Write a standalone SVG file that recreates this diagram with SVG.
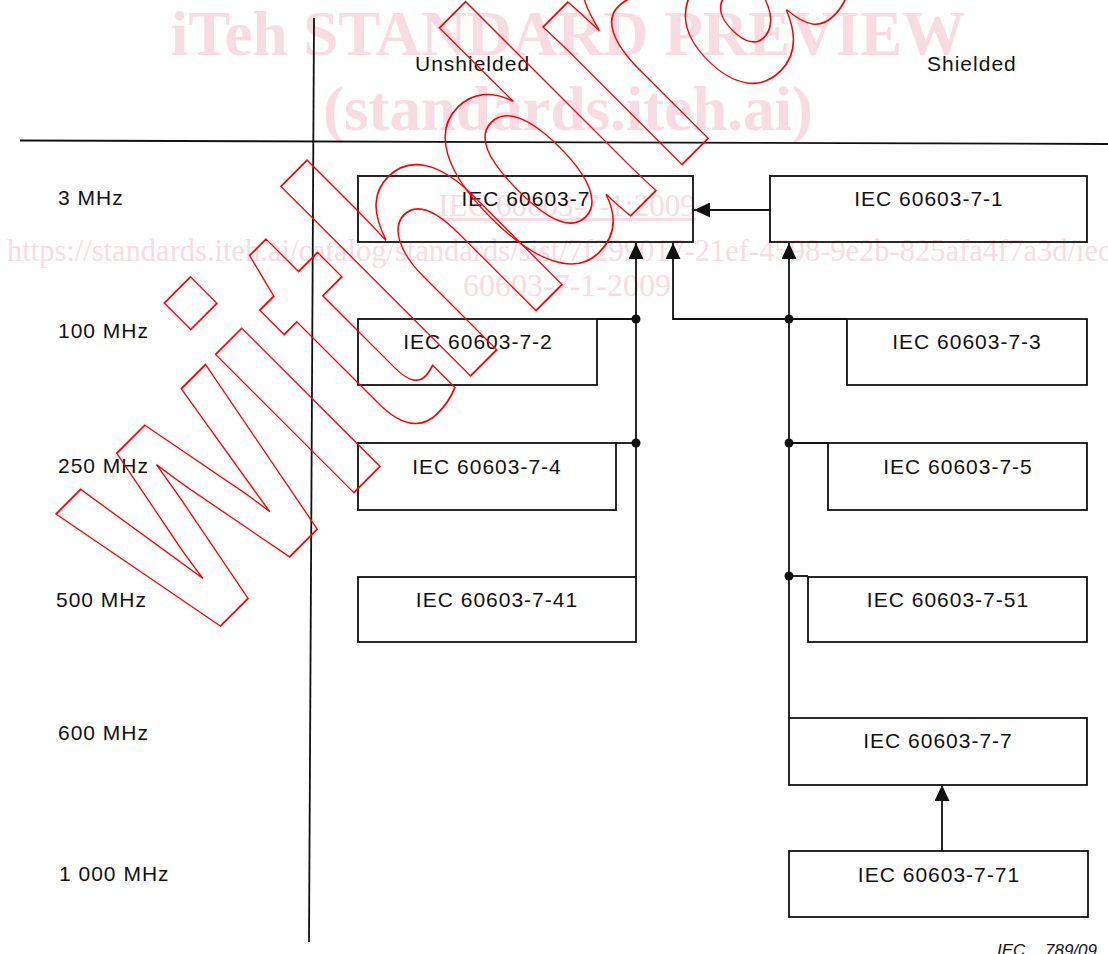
<svg xmlns="http://www.w3.org/2000/svg" width="1108" height="954" viewBox="0 0 1108 954">
<defs>
<style>
.wm{font-family:"Liberation Serif","Times New Roman",serif;fill:#f9dbe3}
.wmb{font-weight:bold;font-size:63px}
.lbl{font-family:"Liberation Sans",Arial,sans-serif;font-size:21px;letter-spacing:1px;fill:#111}
.box rect{fill:none;stroke:#111;stroke-width:1.8}
.box text{text-anchor:middle}
.conn line,.conn polyline{stroke:#111;stroke-width:1.8;fill:none}
.axis line{stroke:#111;stroke-width:1.8}
.dot{fill:#111}
.red{font-family:"Liberation Sans",Arial,sans-serif;font-weight:bold;font-size:370px;fill:none;stroke:#f00;stroke-width:1.8}
.tag{font-family:"Liberation Sans",Arial,sans-serif;font-size:17px;font-style:italic;fill:#111}
</style>
<marker id="ah" viewBox="0 0 16 15" refX="16" refY="7.5" markerWidth="16" markerHeight="15" markerUnits="userSpaceOnUse" orient="auto"><path d="M0,0L16,7.5L0,15Z" fill="#111"/></marker>
</defs>
<rect width="1108" height="954" fill="#fff"/>
<g id="watermark">
<text class="wm wmb" x="568" y="55" text-anchor="middle">iTeh STANDARD PREVIEW</text>
<text class="wm wmb" x="568" y="130" text-anchor="middle">(standards.iteh.ai)</text>
<text class="wm" x="567" y="216" font-size="31" text-anchor="middle" text-decoration="underline">IEC 60603-7-1:2009</text>
<text class="wm" x="7" y="261" font-size="30.5">https://standards.iteh.ai/catalog/standards/sist/7f299017-21ef-4598-9e2b-825afa4f7a3d/iec-</text>
<text class="wm" x="567" y="296" font-size="32" text-anchor="middle">60603-7-1-2009</text>
</g>
<g id="axes" class="axis">
<line x1="314" y1="18" x2="309" y2="942"/>
<line x1="20" y1="140.5" x2="1108" y2="144"/>
</g>
<g id="headers" class="lbl">
<text x="415" y="71">Unshielded</text>
<text x="927" y="71">Shielded</text>
</g>
<g id="frequencies" class="lbl">
<text x="58" y="205">3 MHz</text>
<text x="58" y="338">100 MHz</text>
<text x="58" y="473">250 MHz</text>
<text x="56" y="607">500 MHz</text>
<text x="58" y="740">600 MHz</text>
<text x="59" y="881">1 000 MHz</text>
</g>
<g id="connectors" class="conn">
<line x1="770" y1="210" x2="694" y2="210" marker-end="url(#ah)"/>
<line x1="636" y1="577" x2="636" y2="243" marker-end="url(#ah)"/>
<polyline points="847,319 673,319 673,243" marker-end="url(#ah)"/>
<line x1="597" y1="319" x2="636" y2="319"/>
<line x1="616" y1="443" x2="636" y2="443"/>
<line x1="789" y1="718" x2="789" y2="243" marker-end="url(#ah)"/>
<line x1="789" y1="443" x2="828" y2="443"/>
<line x1="789" y1="576" x2="808" y2="576"/>
<line x1="942" y1="851" x2="942" y2="785" marker-end="url(#ah)"/>
<circle class="dot" cx="636" cy="319" r="4.5"/>
<circle class="dot" cx="636" cy="443" r="4.5"/>
<circle class="dot" cx="789" cy="319" r="4.5"/>
<circle class="dot" cx="789" cy="443" r="4.5"/>
<circle class="dot" cx="789" cy="576" r="4.5"/>
</g>
<g id="n7" class="box lbl"><rect x="358" y="176" width="335" height="66"/><text x="526" y="206">IEC 60603-7</text></g>
<g id="n7-1" class="box lbl"><rect x="770" y="176" width="317" height="66"/><text x="929" y="206">IEC 60603-7-1</text></g>
<g id="n7-2" class="box lbl"><rect x="358" y="319" width="239" height="66"/><text x="478" y="349">IEC 60603-7-2</text></g>
<g id="n7-3" class="box lbl"><rect x="847" y="319" width="240" height="66"/><text x="967" y="349">IEC 60603-7-3</text></g>
<g id="n7-4" class="box lbl"><rect x="358" y="443" width="258" height="67"/><text x="487" y="474">IEC 60603-7-4</text></g>
<g id="n7-5" class="box lbl"><rect x="828" y="443" width="259" height="67"/><text x="958" y="474">IEC 60603-7-5</text></g>
<g id="n7-41" class="box lbl"><rect x="358" y="577" width="278" height="65"/><text x="497" y="607">IEC 60603-7-41</text></g>
<g id="n7-51" class="box lbl"><rect x="808" y="577" width="279" height="65"/><text x="948" y="607">IEC 60603-7-51</text></g>
<g id="n7-7" class="box lbl"><rect x="789" y="718" width="298" height="67"/><text x="938" y="748">IEC 60603-7-7</text></g>
<g id="n7-71" class="box lbl"><rect x="789" y="851" width="299" height="66"/><text x="939" y="882">IEC 60603-7-71</text></g>
<text class="tag" y="956"><tspan x="997">IEC</tspan><tspan x="1045">789/09</tspan></text>
<g id="withdrawn-stamp">
<text class="red" x="-442.5 -160.3 -53.4 65.8 249.3 475.3 616.4 821.9 1109.6" y="0" transform="translate(423.25,423.25) rotate(-45) scale(0.73,1)">withdrawn</text>
</g>
</svg>
